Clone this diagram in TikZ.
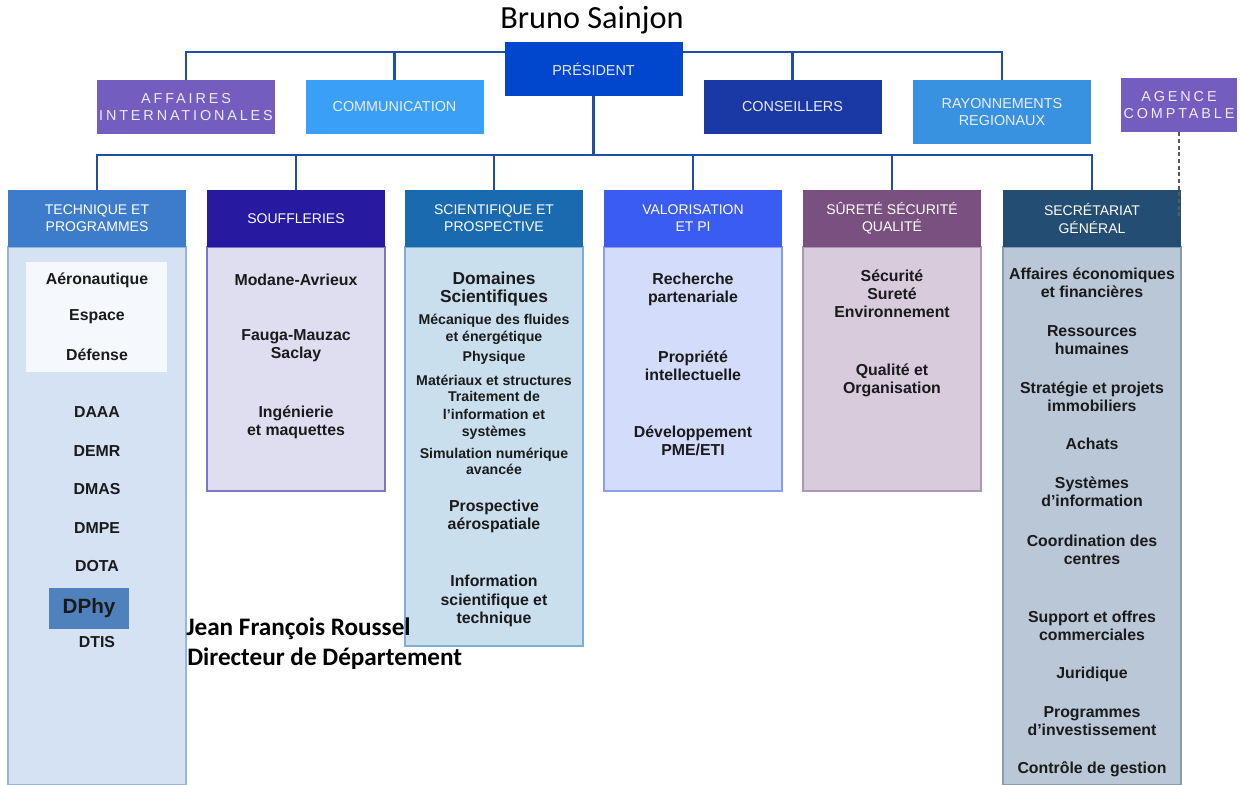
\documentclass[tikz,border=0pt]{standalone}
\usepackage{fontspec}
\setmainfont{Liberation Sans}
\newfontfamily\calib{Carlito}
\newfontfamily\spaced[LetterSpace=20]{Liberation Sans}
\pgfdeclarelayer{bg}
\pgfsetlayers{bg,main}
\definecolor{conn}{HTML}{1F4FA0}
\definecolor{cAff}{HTML}{735DBE}
\definecolor{cCom}{HTML}{3A9FF6}
\definecolor{cPres}{HTML}{0047CD}
\definecolor{cCons}{HTML}{1A39A4}
\definecolor{cRay}{HTML}{3892E0}
\definecolor{hA}{HTML}{3D7CCB}
\definecolor{hB}{HTML}{261AA0}
\definecolor{hC}{HTML}{1A6AB0}
\definecolor{hD}{HTML}{3A5CF2}
\definecolor{hE}{HTML}{7A5080}
\definecolor{hF}{HTML}{244D73}
\definecolor{bA}{HTML}{D5E2F3}
\definecolor{bB}{HTML}{DFDDF0}
\definecolor{bC}{HTML}{CADFEE}
\definecolor{bD}{HTML}{D3DCFB}
\definecolor{bE}{HTML}{D8CBDC}
\definecolor{bF}{HTML}{B9C7D6}
\definecolor{txt}{HTML}{1A1A1A}
\definecolor{dphy}{HTML}{4F81BD}
\definecolor{aero}{HTML}{F5F9FD}
\tikzset{
  topbox/.style={inner sep=0, minimum width=178*0.75pt, minimum height=54*0.75pt,
    text=white!92!blue, align=center, font=\fontsize{10.8}{13}\selectfont},
  hdrbox/.style={inner sep=0, minimum width=178*0.75pt, minimum height=57*0.75pt,
    text=white, align=center, font=\fontsize{10.5}{12.8}\selectfont},
  bodybox/.style={inner sep=0, minimum width=178*0.75pt, line width=0.9pt},
  item/.style={inner sep=0, align=center, text=txt, font=\bfseries\fontsize{11.9}{13.6}\selectfont},
  small/.style={inner sep=0, align=center, text=txt, font=\bfseries\fontsize{10.6}{12.6}\selectfont},
  conline/.style={draw=conn, line width=2.1pt},
  person/.style={inner sep=0, anchor=west, text=black, font=\calib\bfseries\fontsize{18.9}{21}\selectfont}
}
\begin{document}
\begin{tikzpicture}[x=0.75pt,y=-0.75pt]
\useasboundingbox (0,0) rectangle (1240,785);

% title
\node[inner sep=0, font=\calib\fontsize{24.2}{27}\selectfont] (bruno) at (592,20) {Bruno Sainjon};

% top row
\node[topbox, fill=cPres] (pres) at (593.5,69) {PRÉSIDENT};
\node[topbox, fill=cAff] (aff) at (186,107) {\spaced AFFAIRES\\\spaced INTERNATIONALES};
\node[topbox, fill=cCom] (comm) at (394.5,107) {COMMUNICATION};
\node[topbox, fill=cCons] (cons) at (792.5,107) {CONSEILLERS};
\node[topbox, fill=cRay, minimum height=64*0.75pt] (rayo) at (1002,112) {RAYONNEMENTS\\REGIONAUX};
\node[topbox, fill=cAff, minimum width=116*0.75pt] (agence) at (1179,105) {\spaced AGENCE\\\spaced COMPTABLE};

\coordinate (tl) at (0,52);
\coordinate (bl) at (0,155);

% column bodies
\node[bodybox, fill=bA, draw=hA!55!white, minimum height=538*0.75pt] (b1) at (97,516) {};
\node[bodybox, fill=bB, draw=hB!60!white, minimum height=244*0.75pt] (b2) at (296,369) {};
\node[bodybox, fill=bC, draw=hC!55!white, minimum height=399*0.75pt] (b3) at (494,446.5) {};
\node[bodybox, fill=bD, draw=hD!60!white, minimum height=244*0.75pt] (b4) at (693,369) {};
\node[bodybox, fill=bE, draw=hE!60!white, minimum height=244*0.75pt] (b5) at (892,369) {};
\node[bodybox, fill=bF, draw=hF!55!white, minimum height=538*0.75pt] (b6) at (1092,516) {};

% column headers
\node[hdrbox, fill=hA] (h1) at (97,218.5) {TECHNIQUE ET\\PROGRAMMES};
\node[hdrbox, fill=hB] (h2) at (296,218.5) {SOUFFLERIES};
\node[hdrbox, fill=hC] (h3) at (494,218.5) {SCIENTIFIQUE ET\\PROSPECTIVE};
\node[hdrbox, fill=hD] (h4) at (693,218.5) {VALORISATION\\ET PI};
\node[hdrbox, fill=hE] (h5) at (892,218.5) {SÛRETÉ SÉCURITÉ\\QUALITÉ};
\node[hdrbox, fill=hF] (h6) at (1092,218.5) {SECRÉTARIAT\\GÉNÉRAL};

% connectors
\begin{pgfonlayer}{bg}
\draw[conline] (aff.north) -- (aff.north |- tl) -- (rayo.north |- tl) -- (rayo.north);
\draw[conline] (comm.north) -- (comm.north |- tl);
\draw[conline] (cons.north) -- (cons.north |- tl);
\draw[conline] (pres.south) -- (pres.south |- bl);
\draw[conline] (h1.north) -- (h1.north |- bl) -- (h6.north |- bl) -- (h6.north);
\draw[conline] (h2.north) -- (h2.north |- bl);
\draw[conline] (h3.north) -- (h3.north |- bl);
\draw[conline] (h4.north) -- (h4.north |- bl);
\draw[conline] (h5.north) -- (h5.north |- bl);
\end{pgfonlayer}
\draw[densely dashed, draw=gray!70!black, line width=1pt] (agence.south) -- (agence.south |- h6.center);

% column 1
\node[inner sep=0, fill=aero, minimum width=141*0.75pt, minimum height=110*0.75pt] (aerobox) at (96.5,317) {};
\node[item] (c1a) at (97,280) {Aéronautique};
\node[item] (c1b) at (97,317) {Espace};
\node[item] (c1c) at (97,355) {Défense};
\node[item] (c1d) at (97,412) {DAAA};
\node[item] (c1e) at (97,451) {DEMR};
\node[item] (c1f) at (97,489) {DMAS};
\node[item] (c1g) at (97,528) {DMPE};
\node[item] (c1h) at (97,566) {DOTA};
\node[inner sep=0, fill=dphy, minimum width=80*0.75pt, minimum height=41*0.75pt,
  font=\bfseries\fontsize{15.5}{17}\selectfont, text=txt] (c1i) at (89,608) {DPhy};
\node[item] (c1j) at (97,642) {DTIS};

\node[person] (jfr) at (186,629) {Jean François Roussel};
\node[person] (dir) at (187,659) {Directeur de Département};

% column 2
\node[item] (c2a) at (296,280) {Modane-Avrieux};
\node[item] (c2b) at (296,346) {Fauga-Mauzac\\Saclay};
\node[item] (c2c) at (296,422) {Ingénierie\\et maquettes};

% column 3
\node[item, font=\bfseries\fontsize{13}{13.8}\selectfont] (c3a) at (494,289) {Domaines\\Scientifiques};
\node[small] (c3b) at (494,329) {Mécanique des fluides\\et énergétique};
\node[small] (c3c) at (494,358) {Physique};
\node[small] (c3d) at (494,380) {Matériaux et structures};
\node[small, font=\bfseries\fontsize{10.6}{12.9}\selectfont] (c3e) at (494,415.5) {Traitement de\\l'information et\\systèmes};
\node[small, font=\bfseries\fontsize{10.6}{12}\selectfont] (c3f) at (494,461) {Simulation numérique\\avancée};
\node[item] (c3g) at (494,516) {Prospective\\aérospatiale};
\node[item] (c3h) at (494,601) {Information\\scientifique et\\technique};

% column 4
\node[item] (c4a) at (693,289) {Recherche\\partenariale};
\node[item] (c4b) at (693,365.5) {Propriété\\intellectuelle};
\node[item] (c4c) at (693,441) {Développement\\PME/ETI};

% column 5
\node[item] (c5a) at (892,294) {Sécurité\\Sureté\\Environnement};
\node[item] (c5b) at (892,380.5) {Qualité et\\Organisation};

% column 6
\node[item] (c6a) at (1092,282.5) {Affaires économiques\\et financières};
\node[item] (c6b) at (1092,340) {Ressources\\humaines};
\node[item] (c6c) at (1092,397) {Stratégie et projets\\immobiliers};
\node[item] (c6d) at (1092,444) {Achats};
\node[item] (c6e) at (1092,492) {Systèmes\\d'information};
\node[item] (c6f) at (1092,550) {Coordination des\\centres};
\node[item] (c6g) at (1092,626) {Support et offres\\commerciales};
\node[item] (c6h) at (1092,674) {Juridique};
\node[item] (c6i) at (1092,721.5) {Programmes\\d'investissement};
\node[item] (c6j) at (1092,769) {Contrôle de gestion};
\end{tikzpicture}
\end{document}
